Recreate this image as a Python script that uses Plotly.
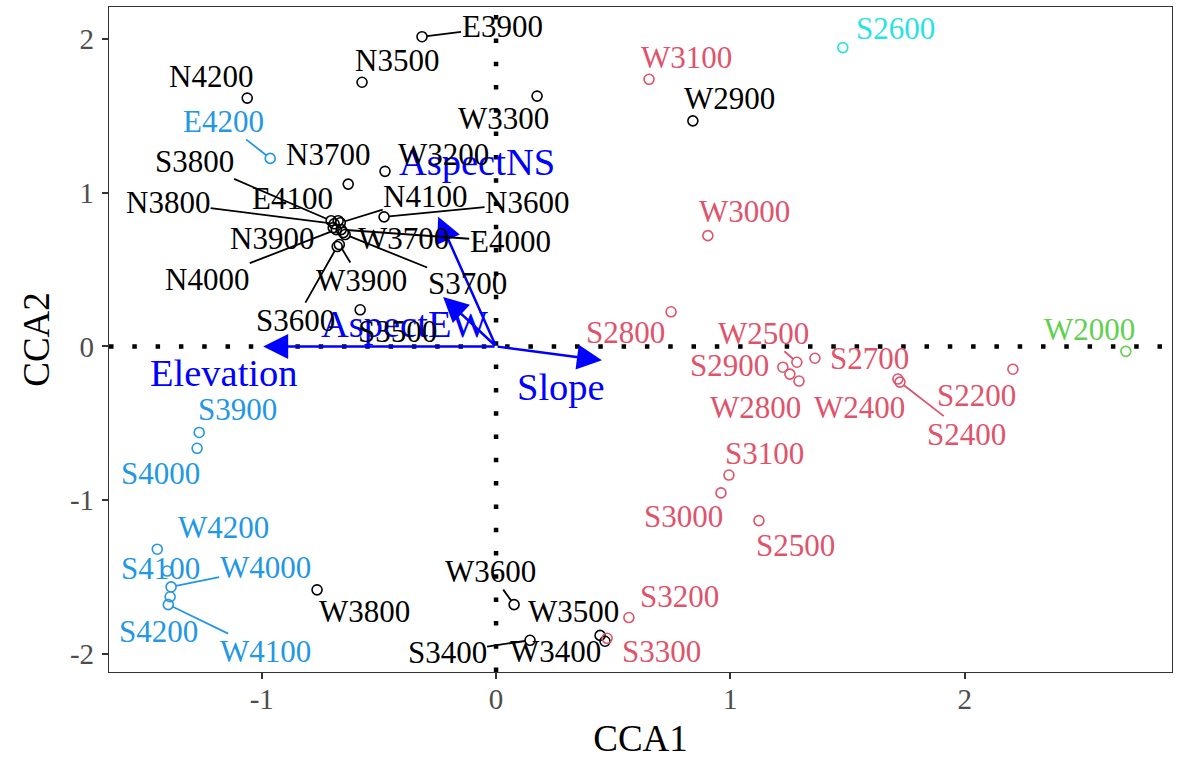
import plotly.graph_objects as go

# ---------------- data ----------------
sites = ["E3900", "N3500", "N4200", "W3300", "W2900", "N3700", "W3200", "N3600",
         "S3800", "N3800", "E4100", "N4100", "N3900", "W3700", "E4000", "S3700",
         "N4000", "W3900", "S3600", "S3500", "W3800", "W3600", "W3500", "W3400",
         "S3400",
         "W3100", "W3000", "S2800", "W2500", "S2700", "S2900", "W2700", "W2800",
         "W2400", "S2400", "S2200", "S3100", "S3000", "S2500", "S3200", "S3300",
         "W2000", "S2600",
         "E4200", "S3900", "S4000", "W4200", "S4100", "W4000", "S4200", "W4100"]
cca1 = [-0.316, -0.572, -1.062, 0.175, 0.840, -0.631, -0.474, -0.478,
        -0.704, -0.691, -0.674, -0.665, -0.695, -0.652, -0.661, -0.644,
        -0.682, -0.669, -0.678, -0.580, -0.764, 0.077, 0.444, 0.465,
        0.145,
        0.653, 0.904, 0.747, 1.284, 1.361, 1.224, 1.254, 1.293,
        1.715, 1.724, 2.206, 0.994, 0.960, 1.122, 0.567, 0.474,
        2.688, 1.480,
        -0.964, -1.267, -1.276, -1.446, -1.404, -1.387, -1.391, -1.399]
cca2 = [2.013, 1.717, 1.614, 1.627, 1.466, 1.055, 1.138, 0.842,
        0.817, 0.797, 0.817, 0.804, 0.772, 0.740, 0.759, 0.727,
        0.759, 0.662, 0.649, 0.238, -1.582, -1.678, -1.878, -1.916,
        -1.910,
        1.736, 0.720, 0.225, -0.103, -0.077, -0.135, -0.180, -0.225,
        -0.212, -0.232, -0.148, -0.836, -0.952, -1.132, -1.762, -1.897,
        -0.032, 1.942,
        1.222, -0.559, -0.662, -1.318, -1.460, -1.563, -1.627, -1.678]
group = [1] * 25 + [2] * 16 + [3] + [5] + [4] * 8

env_vars = ["Elevation", "Slope", "AspectEW", "AspectNS"]
env_cca1 = [-0.994, 0.452, -0.226, -0.247]
env_cca2 = [0.000, -0.090, 0.322, 0.842]

# ---------------- styling / label placement ----------------
GROUP_COLORS = {1: "#000000", 2: "#DF536B", 3: "#61D04F", 4: "#2297E6", 5: "#28E2E5"}
FONT = "Liberation Serif, Times New Roman, serif"

# label offsets in pixels (dx, dy screen-down), and whether a leader segment is drawn
LABEL_OFFSETS = {
    "E3900": (80, -10, True), "N3500": (35, -22, False), "N4200": (-36, -22, False),
    "W3300": (-34, 22, False), "W2900": (37, -22, False), "N3700": (-20, -30, False),
    "W3200": (58, -17, False), "N3600": (143, -14, True), "S3800": (-137, -59, True),
    "N3800": (-166, -21, True), "E4100": (-46, -22, False), "N4100": (85, -26, True),
    "N3900": (-61, 11, False), "W3700": (60, 6, False), "E4000": (169, 12, True),
    "S3700": (122, 49, True), "N4000": (-129, 50, True), "W3900": (22, 36, True),
    "S3600": (-42, 74, True), "S3500": (37, 22, False), "W3800": (47, 22, False),
    "W3600": (-24, -33, True), "W3500": (-27, -24, False), "W3400": (-50, 10, False),
    "S3400": (-83, 12, True),
    "W3100": (37, -22, False), "W3000": (37, -24, False), "S2800": (-46, 21, False),
    "W2500": (-33, -29, True), "S2700": (55, 0, False), "S2900": (-53, -2, False),
    "W2800": (-44, 26, False), "W2400": (-38, 28, False), "S2400": (67, 52, True),
    "S2200": (-36, 26, False), "S3100": (36, -22, False), "S3000": (-37, 24, False),
    "S2500": (37, 25, False), "S3200": (51, -21, False), "S3300": (54, 13, False),
    "W2000": (-36, -22, False), "S2600": (53, -19, False),
    "E4200": (-47, -37, True), "S3900": (38, -23, False), "S4000": (-37, 25, False),
    "W4200": (66, -22, False), "S4100": (-7, -3, False), "W4000": (94, -19, True),
    "S4200": (-12, 35, False), "W4100": (97, 47, True),
}
ENV_LABEL_OFFSETS = {"Elevation": (-39, 27), "Slope": (-41, 27),
                     "AspectEW": (-39, 27), "AspectNS": (39, -55)}

fig = go.Figure()

for g in [1, 2, 3, 4, 5]:
    idx = [i for i, gg in enumerate(group) if gg == g]
    fig.add_trace(go.Scatter(
        x=[cca1[i] for i in idx], y=[cca2[i] for i in idx], mode="markers",
        marker=dict(symbol="circle-open", size=10, color=GROUP_COLORS[g],
                    line=dict(width=1.6, color=GROUP_COLORS[g])),
        showlegend=False, hoverinfo="skip"))

XR = [-1.652, 2.885]
YR = [-2.116, 2.206]

# dotted reference lines
DOT = dict(color="black", width=4.5, dash="4.5px,18.8px")
fig.add_shape(type="line", x0=XR[0], x1=XR[1], y0=0, y1=0, xref="x", yref="y",
              line=DOT, layer="above")
fig.add_shape(type="line", x0=0, x1=0, y0=YR[0], y1=YR[1], xref="x", yref="y",
              line=DOT, layer="above")

annotations = []
# environmental arrows
for name, ex, ey in zip(env_vars, env_cca1, env_cca2):
    annotations.append(dict(x=ex, y=ey, ax=0, ay=0, xref="x", yref="y",
                            axref="x", ayref="y", text="", showarrow=True,
                            arrowhead=2, arrowsize=2, arrowwidth=2.5,
                            arrowcolor="#0000FF"))
for name, ex, ey in zip(env_vars, env_cca1, env_cca2):
    dx, dy = ENV_LABEL_OFFSETS[name]
    annotations.append(dict(x=ex, y=ey, xref="x", yref="y", text=name,
                            showarrow=False, xshift=dx, yshift=-dy,
                            xanchor="center", yanchor="middle",
                            font=dict(family=FONT, size=38.5, color="#0000FF")))

# site labels
for s, x, y, g in zip(sites, cca1, cca2, group):
    if s not in LABEL_OFFSETS:
        continue
    dx, dy, seg = LABEL_OFFSETS[s]
    col = GROUP_COLORS[g]
    f = dict(family=FONT, size=31, color=col)
    if seg:
        annotations.append(dict(x=x, y=y, xref="x", yref="y", text=s,
                                showarrow=True, ax=dx, ay=dy, arrowhead=0,
                                arrowwidth=1.8, arrowcolor=col, standoff=5,
                                borderpad=0, font=f))
    else:
        annotations.append(dict(x=x, y=y, xref="x", yref="y", text=s,
                                showarrow=False, xshift=dx, yshift=-dy,
                                xanchor="center", yanchor="middle", font=f))

fig.update_layout(
    width=1182, height=759,
    margin=dict(l=109, r=10, t=6, b=81),
    paper_bgcolor="white", plot_bgcolor="white",
    annotations=annotations,
    font=dict(family=FONT),
    xaxis=dict(range=XR, tickvals=[-1, 0, 1, 2], ticktext=["-1", "0", "1", "2"],
               showgrid=False, zeroline=False, ticks="outside", ticklen=6,
               tickwidth=1.5, tickcolor="#333333", showline=True, linecolor="#333333",
               linewidth=1.2, mirror=True, ticklabelstandoff=-5,
               tickfont=dict(family=FONT, size=29, color="#4D4D4D"),
               title=dict(text="CCA1", font=dict(family=FONT, size=37, color="black"),
                          standoff=12)),
    yaxis=dict(range=YR, tickvals=[-2, -1, 0, 1, 2], ticktext=["-2", "-1", "0", "1", "2"],
               showgrid=False, zeroline=False, ticks="outside", ticklen=6,
               tickwidth=1.5, tickcolor="#333333", showline=True, linecolor="#333333",
               linewidth=1.2, mirror=True, ticklabelstandoff=2,
               tickfont=dict(family=FONT, size=29, color="#4D4D4D"),
               title=dict(text="CCA2", font=dict(family=FONT, size=37, color="black"),
                          standoff=8)),
)

fig.write_html("out.html")
